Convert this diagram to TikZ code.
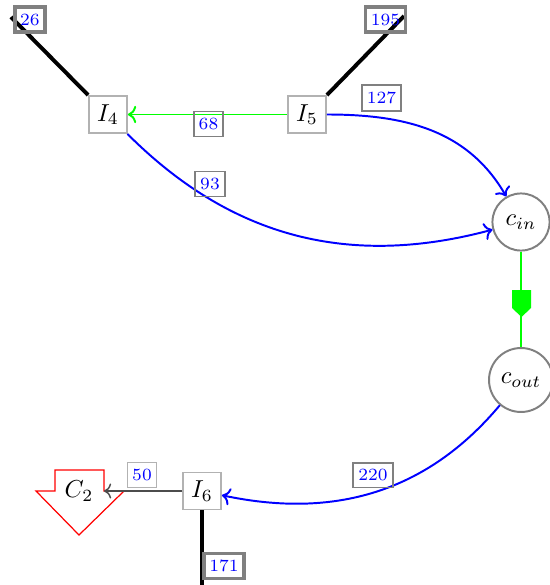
\documentclass[tikz,border=0pt]{standalone}
\usetikzlibrary{arrows.meta}
\begin{document}
\begin{tikzpicture}[x=0.408pt,y=-0.408pt,
  inode/.style={draw=gray!60, line width=0.8pt, minimum width=15.5pt, minimum height=15.1pt, inner sep=0pt},
  cnode/.style={circle, draw=gray, line width=0.8pt, inner sep=0pt},
  lbl/.style={draw=gray, text=blue, font=\scriptsize, inner xsep=2.1pt, inner ysep=2.7pt},
  heavylbl/.style={lbl, line width=1.4pt},
  medlbl/.style={lbl, line width=0.8pt},
  thinlbl/.style={lbl, line width=0.4pt, draw=gray!60},
  heavyedge/.style={black, line width=1.6pt},
  blueedge/.style={blue, line width=0.8pt, ->},
  greenedge/.style={green, line width=0.8pt}
]
\useasboundingbox (0,0) rectangle (550,585);
% nodes
\node[inode] (I4) at (108,114.5) {$I_4$};
\node[inode] (I5) at (307,114.5) {$I_5$};
\node[inode] (I6) at (202,491) {$I_6$};
\node[cnode, minimum size=23.3pt] (cin) at (521,222) {$c_{in}$};
\node[cnode, minimum size=26.1pt] (cout) at (521,380) {$c_{out}$};
\draw[red, line width=0.5pt] (55,470) -- (104,470) -- (104,491) -- (124,491) -- (79,535) -- (36,491) -- (55,491) -- cycle;
\node (C2) at (79,491) {$C_2$};
% free ends
\coordinate (e26) at (11,17);
\coordinate (e195) at (404,16);
\coordinate (e171) at (202,592);
\coordinate (c2e) at (104,491);
% connectors
\draw[heavyedge] (I4.north west) -- (e26);
\draw[heavyedge] (I5.north east) -- (e195);
\draw[heavyedge] (I6.south) -- (e171);
\draw[greenedge, ->] (I5) -- (I4);
\draw[blueedge] (I5) to[out=0,in=120] (cin);
\draw[blueedge] (I4) to[out=-45,in=195] (cin);
\draw[greenedge] (cin) -- (cout);
\fill[green] (512,290) -- (531,290) -- (531,308) -- (521.5,317) -- (512,308) -- cycle;
\draw[blueedge] (cout) to[out=230,in=-12] (I6);
\draw[black!70, line width=0.6pt, ->] (I6) -- (c2e);
% labels
\node[heavylbl] (l26) at (30,19.5) {26};
\node[heavylbl] (l195) at (385.5,19.5) {195};
\node[medlbl] (l127) at (381.5,98) {127};
\node[medlbl] (l68) at (208.5,124) {68};
\node[medlbl] (l93) at (210,184) {93};
\node[medlbl] (l220) at (373,475) {220};
\node[thinlbl] (l50) at (142,475) {50};
\node[heavylbl] (l171) at (224,566) {171};
\end{tikzpicture}
\end{document}
